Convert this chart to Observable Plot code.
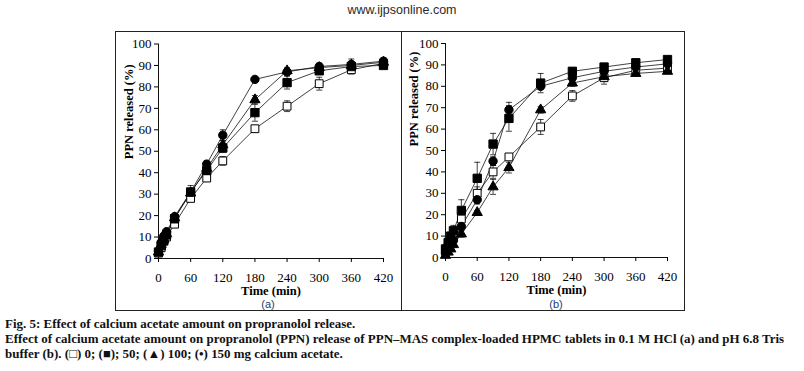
<!DOCTYPE html>
<html>
<head>
<meta charset="utf-8">
<script src="https://cdn.jsdelivr.net/npm/d3@7"></script>
<script src="https://cdn.jsdelivr.net/npm/@observablehq/plot@0.6"></script>
<style>
  html, body { margin: 0; padding: 0; background: white; }
  body { width: 804px; height: 371px; position: relative; overflow: hidden; }
  .abs { position: absolute; }
  #header { left: 0; top: 3px; width: 804px; text-align: center; font: 12.5px "Liberation Sans", Arial, sans-serif; color: #2a2a2a; }
  #box { left: 115px; top: 31px; width: 570px; height: 280px; border: 1px solid #222; box-sizing: border-box; }
  #divider { left: 401px; top: 31px; width: 1px; height: 280px; background: #222; }
  .plabel { top: 298px; width: 40px; text-align: center; font: 11px/12px "Liberation Sans", Arial, sans-serif; color: #1d3a6e; }
  #pa svg, #pb svg { font-family: "Liberation Serif", "Times New Roman", serif !important; font-size: 13px !important; overflow: visible !important; }
  #pa svg text, #pb svg text { font-family: "Liberation Serif", "Times New Roman", serif !important; }
</style>
</head>
<body>
<div id="header" class="abs">www.ijpsonline.com</div>
<div id="box" class="abs"></div>
<div id="divider" class="abs"></div>
<div id="pa" class="abs" style="left:115px; top:31px;"></div>
<div id="pb" class="abs" style="left:402px; top:31px;"></div>
<div class="abs plabel" style="left:248px;">(a)</div>
<div class="abs plabel" style="left:536px;">(b)</div>
<svg id="cap" class="abs" style="left:0; top:312px;" width="804" height="59"></svg>
<script>
// ---- data ----
const time = [0, 5, 10, 15, 30, 60, 90, 120, 180, 240, 300, 360, 420];
const xTicks = [0, 60, 120, 180, 240, 300, 360, 420];
const yTicks = [0, 10, 20, 30, 40, 50, 60, 70, 80, 90, 100];
const seriesNames = ["0 mg", "50 mg", "100 mg", "150 mg"];

// panel (a): 0.1 M HCl
const a0   = [2.5, 5, 8, 10, 16, 28, 37.5, 45.5, 60.5, 71, 81.5, 88, 91];
const a50  = [3, 6, 8.5, 11, 18.5, 31, 41, 51.5, 68, 82, 87.5, 89.5, 90];
const a100 = [3, 6.5, 9, 11.5, 19, 30.5, 42, 53, 74, 87.5, 89, 90, 91.5];
const a150 = [3.5, 7.5, 10.5, 12.5, 19.5, 31, 44, 57.5, 83.5, 87, 89.5, 90.5, 92];
const a0Sd   = [0, 0, 0, 0, 1, 1, 1.5, 2, 1.5, 2.5, 3, 2, 1.5];
const a50Sd  = [0, 0, 0, 0, 1, 1.5, 1.5, 2, 4, 3, 1.5, 1.5, 1];
const a100Sd = [0, 0, 0, 0, 1, 1, 1.5, 2, 2, 1.5, 1, 1.5, 1];
const a150Sd = [0, 0, 0.5, 1, 1, 3, 1.5, 2.5, 1, 1.5, 1.5, 2.5, 1.5];

// panel (b): pH 6.8 Tris buffer
const b0   = [3, 5, 8, 10, 18, 30, 40, 47, 61, 75.5, 84, 87.5, 88.5];
const b50  = [4, 7, 10, 12.5, 22, 37, 53, 65, 81.5, 87, 89, 91, 92.5];
const b100 = [1, 2.5, 4, 6, 11, 21, 33, 42, 69, 81.5, 84.5, 86, 87];
const b150 = [2, 4, 6, 8, 14.5, 27, 45, 69, 80, 84, 87, 89, 90.5];
const b0Sd   = [0, 0, 0, 1, 2, 3, 3, 1.5, 3.5, 2.5, 3, 1.5, 1];
const b50Sd  = [0, 1, 1.5, 2.5, 5, 7.5, 5, 6, 4.5, 1.5, 1, 1, 1];
const b100Sd = [0, 0, 0.5, 1, 1.5, 1, 3.5, 2.5, 1.5, 1.5, 2, 1, 1];
const b150Sd = [0, 0.5, 1, 1.5, 1.5, 2, 2, 3.5, 1.5, 1.5, 1.5, 1, 1];

const yTitle = "PPN released (%)";
const xTitle = "Time (min)";
const captionLines = [
  "Fig. 5: Effect of calcium acetate amount on propranolol release.",
  "Effect of calcium acetate amount on propranolol (PPN) release of PPN–MAS complex-loaded HPMC tablets in 0.1 M HCl (a) and pH 6.8 Tris",
  "buffer (b). (□) 0; (■); 50; (▲) 100; (•) 150 mg calcium acetate."
];

// ---- drawing ----
const markerStyles = [
  {symbol: "square", fill: "white", r: 4.4},
  {symbol: "square", fill: "black", r: 4.7},
  {symbol: "triangle", fill: "black", r: 3.8},
  {symbol: "circle", fill: "black", r: 4.2}
];
const capSymbol = { draw(ctx) { ctx.moveTo(-3, 0); ctx.lineTo(3, 0); } };
const serif = "Liberation Serif";

function panel(vals, sds, cfg) {
  const rows = [];
  vals.forEach((arr, s) => arr.forEach((v, i) => rows.push({t: time[i], v, sd: sds[s][i], s: seriesNames[s]})));
  const err = rows.filter(d => d.sd > 0);
  const caps = err.flatMap(d => [{t: d.t, y: d.v - d.sd}, {t: d.t, y: d.v + d.sd}]);
  return Plot.plot({
    width: cfg.width, height: 270,
    marginLeft: 43, marginRight: cfg.mr, marginTop: cfg.mt, marginBottom: 270 - cfg.zero,
    x: {domain: [0, 420]},
    y: {domain: [0, 100]},
    style: {fontFamily: serif, fontSize: "13px", color: "black", background: "transparent", overflow: "visible"},
    marks: [
      Plot.ruleY([0], {x1: 0, x2: 420, stroke: "#111", strokeWidth: 1}),
      Plot.ruleX([0], {y1: 0, y2: 100, stroke: "#111", strokeWidth: 1}),
      Plot.axisX({ticks: xTicks, tickSize: 4, tickPadding: 10, label: null, tickFormat: d => String(d), fontSize: 13, fontFamily: serif}),
      Plot.axisY({ticks: yTicks, tickSize: 4, tickPadding: 3, label: null, tickFormat: d => String(d), fontSize: 13, fontFamily: serif}),
      Plot.line(rows, {x: "t", y: "v", z: "s", stroke: "#111", strokeWidth: 0.8}),
      Plot.ruleX(err, {x: "t", y1: d => d.v - d.sd, y2: d => d.v + d.sd, stroke: "#111", strokeWidth: 0.8}),
      Plot.dot(caps, {x: "t", y: "y", symbol: capSymbol, r: 3, fill: "none", stroke: "#111", strokeWidth: 0.8}),
      ...markerStyles.map((st, k) => Plot.dot(rows.filter(d => d.s === seriesNames[k]), {
        x: "t", y: "v", symbol: st.symbol, r: st.r, fill: st.fill, stroke: "black", strokeWidth: 1
      })),
      Plot.text([yTitle], {text: d => d, frameAnchor: "left", rotate: -90, dx: cfg.ydx, dy: cfg.ydy, fontWeight: "bold", fontSize: 12.5, fontFamily: serif}),
      Plot.text([xTitle], {text: d => d, frameAnchor: "bottom", dy: 36, fontWeight: "bold", fontSize: 12.5, fontFamily: serif})
    ]
  });
}

document.getElementById("pa").append(panel([a0, a50, a100, a150], [a0Sd, a50Sd, a100Sd, a150Sd],
  {width: 287, mr: 19, mt: 12.5, zero: 227, ydx: -30, ydy: 8}));
document.getElementById("pb").append(panel([b0, b50, b100, b150], [b0Sd, b50Sd, b100Sd, b150Sd],
  {width: 282, mr: 17, mt: 12, zero: 226, ydx: -32, ydy: -4}));

// caption
const cap = d3.select("#cap");
const baselines = [15.5, 31, 46];
const texts = captionLines.map((line, i) => cap.append("text")
  .attr("x", 5).attr("y", baselines[i])
  .attr("font-family", "'Liberation Serif', 'Times New Roman', serif")
  .attr("font-weight", "bold").attr("font-size", 12)
  .attr("fill", "#111").text(line));
const natural = texts[1].node().getComputedTextLength();
const fs = 12 * 780 / natural;
texts.forEach(t => t.attr("font-size", fs));
</script>
</body>
</html>
